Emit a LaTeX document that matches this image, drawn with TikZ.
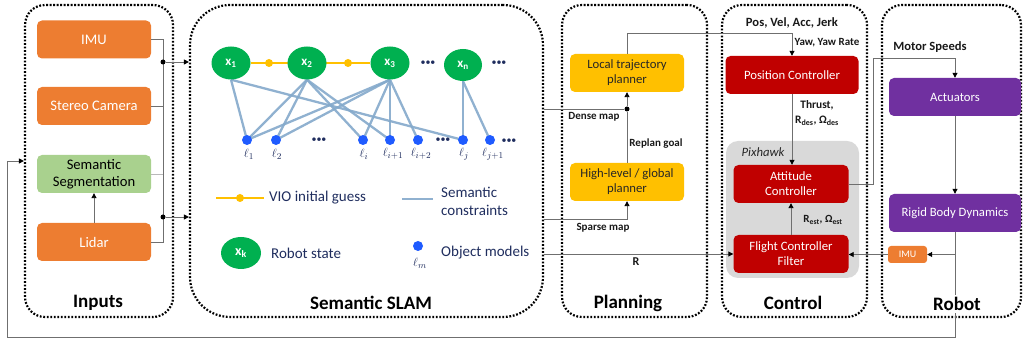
\documentclass[tikz,border=0pt]{standalone}
\usepackage{fontspec}
\setmainfont{Carlito}
\usetikzlibrary{arrows.meta,shapes.geometric,calc,backgrounds}
\definecolor{orng}{HTML}{ED7D31}
\definecolor{sgreen}{HTML}{A9D18E}
\definecolor{egreen}{HTML}{00B050}
\definecolor{yel}{HTML}{FFC000}
\definecolor{dred}{HTML}{C00000}
\definecolor{purp}{HTML}{7030A0}
\definecolor{pgray}{HTML}{D9D9D9}
\definecolor{lblue}{HTML}{1F5BFF}
\definecolor{edgeb}{HTML}{84A9CB}
\definecolor{navy}{HTML}{1F2D5E}
\definecolor{connc}{HTML}{6F6F6F}
\newcommand{\fsz}[2]{\fontsize{#1}{#2}\selectfont}
\tikzset{
  box/.style={rectangle, rounded corners=5pt, minimum width=114pt, minimum height=38pt, align=center, inner sep=2pt, font=\fsz{12.7}{15}},
  inbox/.style={box, fill=orng, text=white, font=\fsz{14.6}{17}},
  plbox/.style={box, fill=yel, text=black!85},
  ctbox/.style={box, fill=dred, text=white},
  rbbox/.style={box, fill=purp, text=white, minimum width=132pt},
  container/.style={draw=black, line width=2.2pt, dash pattern=on 1.8pt off 1.7pt, rounded corners=20pt, minimum height=312pt},
  ctitle/.style={font=\bfseries\fsz{19}{22}, text=black},
  conn/.style={draw=connc, line width=0.9pt},
  arr/.style={conn, -{Triangle[length=5pt,width=5pt,color=black]}},
  lab/.style={font=\bfseries\fsz{11}{14}, text=black!90, inner sep=1pt},
  state/.style={ellipse, fill=egreen, minimum width=39pt, minimum height=33pt, inner sep=0pt, text=white, font=\bfseries\fsz{13}{15}},
  lmk/.style={circle, fill=lblue, minimum size=10pt, inner sep=0pt},
  lmklab/.style={text=navy, font=\fsz{13}{15}, inner sep=0pt},
  sedge/.style={draw=edgeb, line width=2.3pt, opacity=0.9},
  vio/.style={draw=yel, line width=2.6pt},
  viodot/.style={circle, fill=yel, minimum size=8pt, inner sep=0pt},
  dots/.style={text=navy, font=\fsz{10}{12}, inner sep=0pt},
  legtext/.style={text=navy, font=\fsz{15}{18}, align=left, anchor=west, inner sep=0pt},
  jdot/.style={circle, fill=black, minimum size=5pt, inner sep=0pt}
}
\begin{document}
\begin{tikzpicture}[x=1pt,y=-1pt]
\useasboundingbox (0,0) rectangle (1023,344);
% containers
\node[container, minimum width=148pt] (inputs) at (99,161) {};
\node[container, minimum width=353pt, rounded corners=40pt] (slam) at (366.5,161) {};
\node[container, minimum width=145pt] (plan) at (634.5,161) {};
\node[container, minimum width=145pt] (ctrl) at (794.5,161) {};
\node[container, minimum width=139pt] (robot) at (951.5,161) {};
\node[ctitle] (tin) at (98,303) {Inputs};
\node[ctitle] (tslam) at (371,303) {Semantic SLAM};
\node[ctitle] (tplan) at (628,303) {Planning};
\node[ctitle] (tctrl) at (793,303) {Control};

% inputs
\node[inbox] (imu) at (94,39.5) {IMU};
\node[inbox] (stereo) at (94,106) {Stereo Camera};
\node[inbox, fill=sgreen, text=black] (seg) at (94,174) {Semantic\\Segmentation};
\node[inbox] (lidar) at (94,242) {Lidar};
\coordinate (busB) at (163,242);
\draw[conn] (imu.east) -| (busB) -- (lidar.east);
\draw[conn] (stereo.east) -- (stereo.east -| busB);
\draw[conn, draw=gray!55] (seg.east) -- (seg.east -| busB);
\node[jdot] (j1) at (163,62) {};
\node[jdot] (j2) at (163,217) {};
\draw[arr] (j1) -- (j1 -| slam.west);
\draw[arr] (j2) -- (j2 -| slam.west);
\draw[arr] (lidar.north) -- (seg.south);

% SLAM graph
\node[state] (x1) at (231,63) {x\textsubscript{1}};
\node[state] (x2) at (307,63) {x\textsubscript{2}};
\node[state] (x3) at (390,63) {x\textsubscript{3}};
\node[state, minimum width=38pt, minimum height=32pt] (xn) at (463,65) {x\textsubscript{n}};
\node[dots] (d1) at (428,63) {•••};
\node[dots] (d2) at (499,63) {•••};
\node[lmk] (l1) at (247,140) {};
\node[lmk] (l2) at (276,140) {};
\node[lmk] (li) at (363,140) {};
\node[lmk] (li1) at (390,140) {};
\node[lmk] (li2) at (418,140) {};
\node[lmk] (lj) at (463,140) {};
\node[lmk] (lj1) at (490,140) {};
\node[dots] (d3) at (319,140) {•••};
\node[dots] (d4) at (443,140) {•••};
\node[dots] (d5) at (509,141) {•••};
\node[lmklab] (tl1) at (249,154) {$\ell_1$};
\node[lmklab] (tl2) at (277,154) {$\ell_2$};
\node[lmklab] (tli) at (364,154) {$\ell_i$};
\node[lmklab] (tli1) at (393,154) {$\ell_{i+1}$};
\node[lmklab] (tli2) at (421,154) {$\ell_{i+2}$};
\node[lmklab] (tlj) at (464,154) {$\ell_j$};
\node[lmklab] (tlj1) at (493,154) {$\ell_{j+1}$};
\begin{scope}[on background layer]
  \draw[vio] (x1) -- (x3);
  \foreach \a/\b in {x1/l1,x1/lj,x2/l1,x2/l2,x2/li,x2/li1,x3/l1,x3/l2,x3/li,x3/li1,x3/li2,xn/lj,xn/lj1}
    \draw[sedge] (\a.south) -- (\b.center);
\end{scope}
\node[viodot] (v1) at (269,63) {};
\node[viodot] (v2) at (348,63) {};

% legend
\coordinate (lga) at (216,198);
\coordinate (lgb) at (264,198);
\draw[vio] (lga) -- (lgb);
\node[viodot] (lgd) at (240,198) {};
\node[legtext] (tvio) at (269,198) {VIO initial guess};
\coordinate (lgc) at (402,199);
\coordinate (lgd2) at (433,199);
\draw[sedge] (lgc) -- (lgd2);
\node[legtext] (tsc) at (441,201) {Semantic\\constraints};
\node[state, minimum width=40pt, minimum height=32pt, font=\bfseries\fsz{14}{16}] (xk) at (241,253) {x\textsubscript{k}};
\node[legtext] (trs) at (271,253) {Robot state};
\node[lmk] (lm) at (418,246) {};
\node[lmklab] (tlm) at (420,263) {$\ell_m$};
\node[legtext] (tom) at (441,253) {Object models};

% planning
\node[plbox] (local) at (627,73) {Local trajectory\\planner};
\node[plbox] (high) at (627,182) {High-level / global\\planner};
\node[jdot] (dm) at (627,109) {};
\coordinate (sp) at (627,219);
\draw[conn] (dm -| slam.east) -- (dm);
\draw[arr] (dm) -- (local.south);
\draw[conn] (high.north) -- (dm);
\draw[arr] (sp -| slam.east) -- (sp) -- (high.south);
\node[lab] (tdm) at (594,117) {Dense map};
\node[lab] (trg) at (656,144) {Replan goal};
\node[lab] (tsp) at (603,228) {Sparse map};

% control
\node[ctbox, minimum width=133pt] (pos) at (792,75) {Position Controller};
\node[rectangle, fill=pgray, rounded corners=12pt, minimum width=133pt, minimum height=137pt] (pix) at (792.5,209.5) {};
\node[font=\itshape\fsz{12.7}{15}, text=black!85, inner sep=0pt] (tpix) at (763,152) {Pixhawk};
\node[ctbox, minimum width=115pt] (att) at (791,184) {Attitude\\Controller};
\node[ctbox, minimum width=115pt] (filter) at (791,254) {Flight Controller\\Filter};
\draw[arr] (local.north) -- ++(0,-20) -| (pos.north);
\node[lab, font=\bfseries\fsz{12.6}{15}] (tpos) at (792,23) {Pos, Vel, Acc, Jerk};
\node[lab] (tyaw) at (827,43) {Yaw, Yaw Rate};
\draw[arr] (pos.south) -- (pos.south |- att.north);
\node[lab, align=center, font=\bfseries\fsz{11.4}{15}] (tthr) at (817,113) {Thrust,\\R\textsubscript{des}, Ω\textsubscript{des}};
\draw[arr] (filter.north) -- (att.south);
\node[lab] (test) at (823,220) {R\textsubscript{est}, Ω\textsubscript{est}};
\draw[arr] (slam.east |- filter.west) -- (filter.west);
\node[lab, font=\bfseries\fsz{12}{14}] (tR) at (636,262) {R};

% robot
\node[rbbox] (act) at (955,97) {Actuators};
\node[rbbox] (rb) at (955,213) {Rigid Body Dynamics};
\node[rectangle, fill=orng, rounded corners=3pt, minimum width=39pt, minimum height=17pt, inner sep=0pt, text=white, font=\fsz{10}{12}] (imu2) at (907.5,254.5) {IMU};
\draw[arr] (att.east) -- ++(25,0) |- ($(act.north)+(0,-19)$) -- (act.north);
\node[lab, font=\bfseries\fsz{12.6}{15}] (tms) at (930,47) {Motor Speeds};
\draw[arr] (act.south) -- (rb.north);
\coordinate (rbimu) at (955,254.5);
\draw[arr] (rbimu) -- (imu2.east);
\draw[arr] (imu2.west) -- (imu2.west -| filter.east);
\coordinate (fbR) at (955,337);
\coordinate (fbL) at (7,337);
\draw[arr] (rb.south) -- (fbR) -- (fbL) |- (inputs.west);
\node[ctitle, fill=white, inner sep=2pt] (trob) at (957,304) {Robot};
\end{tikzpicture}
\end{document}
